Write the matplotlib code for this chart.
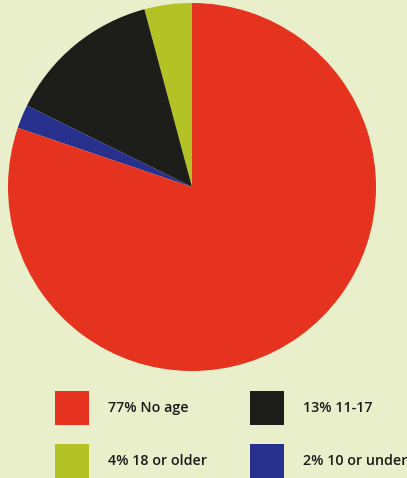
import matplotlib
matplotlib.use("Agg")
import matplotlib.pyplot as plt
from matplotlib.patches import Rectangle

labels = ["No age", "10 or under", "11-17", "18 or older"]
values = [77, 2, 13, 4]
legend_text = ["77% No age", "13% 11-17", "4% 18 or older", "2% 10 or under"]
legend_colors = ["#E5331F", "#1D1E1A", "#B3C326", "#27308C"]
colors = ["#E5331F", "#27308C", "#1D1E1A", "#B3C326"]
bg = "#E9EECB"

W, H = 407, 478
fig = plt.figure(figsize=(W / 100, H / 100), dpi=100, facecolor=bg)
ax = fig.add_axes([8 / W, (H - 371) / H, 368 / W, 368 / H])
ax.set_facecolor(bg)
# red starts at top going clockwise; order counterclockwise from top: green, black, blue, red
ax.pie(values[::-1], colors=colors[::-1], startangle=90, counterclock=True,
       radius=1, wedgeprops=dict(linewidth=0))
ax.set_xlim(-1, 1)
ax.set_ylim(-1, 1)
ax.set_aspect("equal")
ax.axis("off")

# manual legend
pos = [(55, 391), (250, 391), (55, 444), (250, 444)]
for (x, y), t, c in zip(pos, legend_text, legend_colors):
    fig.patches.append(Rectangle((x / W, 1 - (y + 34) / H), 34 / W, 34 / H,
                                 transform=fig.transFigure, facecolor=c,
                                 edgecolor="none"))
    fig.text((x + 53) / W, 1 - (y + 17) / H, t, fontsize=10.3, family="Open Sans",
             weight="semibold", color="#1a1a1a", va="center", ha="left")

fig.savefig("out.png", dpi=100, facecolor=bg)
